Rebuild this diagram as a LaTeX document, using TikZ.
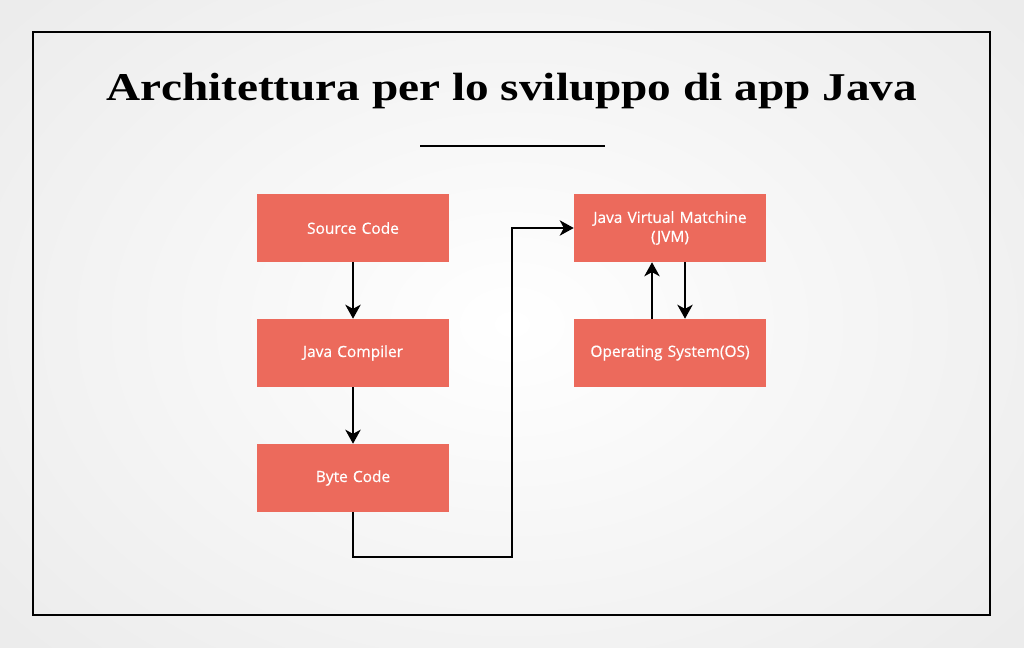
\documentclass[tikz,border=0pt]{standalone}
\usepackage{fontspec}
\setmainfont{Liberation Serif}
\setsansfont{Open Sans}
\usetikzlibrary{arrows.meta,positioning,calc}
\definecolor{boxred}{HTML}{EC6A5C}
\definecolor{bgedge}{HTML}{ECECEC}

\begin{document}
\begin{tikzpicture}[x=0.025cm,y=-0.025cm,>={Stealth[length=10pt,width=11pt,inset=3pt]},
  stepbox/.style={fill=boxred,minimum width=192*0.025cm,minimum height=68*0.025cm,
    inner sep=0pt,text width=185*0.025cm,align=center,text=white,
    font=\sffamily\fontsize{11}{13.5}\selectfont\addfontfeature{FakeBold=0.6}},
  link/.style={->,line width=1.3pt}]
\useasboundingbox (0,0) rectangle (1024,648);
\shade[inner color=white,outer color=bgedge] (-150,-150) rectangle (1174,798);
\draw[line width=1.6pt] (33,32) rectangle (990,615);
\node (title) at (512,91) {\scalebox{1.2}[1]{\fontsize{28}{32}\selectfont\bfseries Architettura per lo sviluppo di app Java}};
\draw[line width=1.6pt] (420,146) -- (605,146);
% left column
\node[stepbox] (src) at (353,228) {Source Code};
\node[stepbox] (comp) at (353,353) {Java Compiler};
\node[stepbox] (byte) at (353,478) {Byte Code};
% right column
\node[stepbox] (jvm) at (670,228) {Java Virtual Matchine\\(JVM)};
\node[stepbox] (os) at (670,353) {Operating System(OS)};
\coordinate (bend) at (512,557);
\coordinate (upx) at (652,0);
\coordinate (dnx) at (685,0);
\draw[link] (src) -- (comp);
\draw[link] (comp) -- (byte);
\draw[link] (byte.south) |- (bend) |- (jvm.west);
\draw[link] (os.north -| upx) -- (jvm.south -| upx);
\draw[link] (jvm.south -| dnx) -- (os.north -| dnx);
\end{tikzpicture}
\end{document}
